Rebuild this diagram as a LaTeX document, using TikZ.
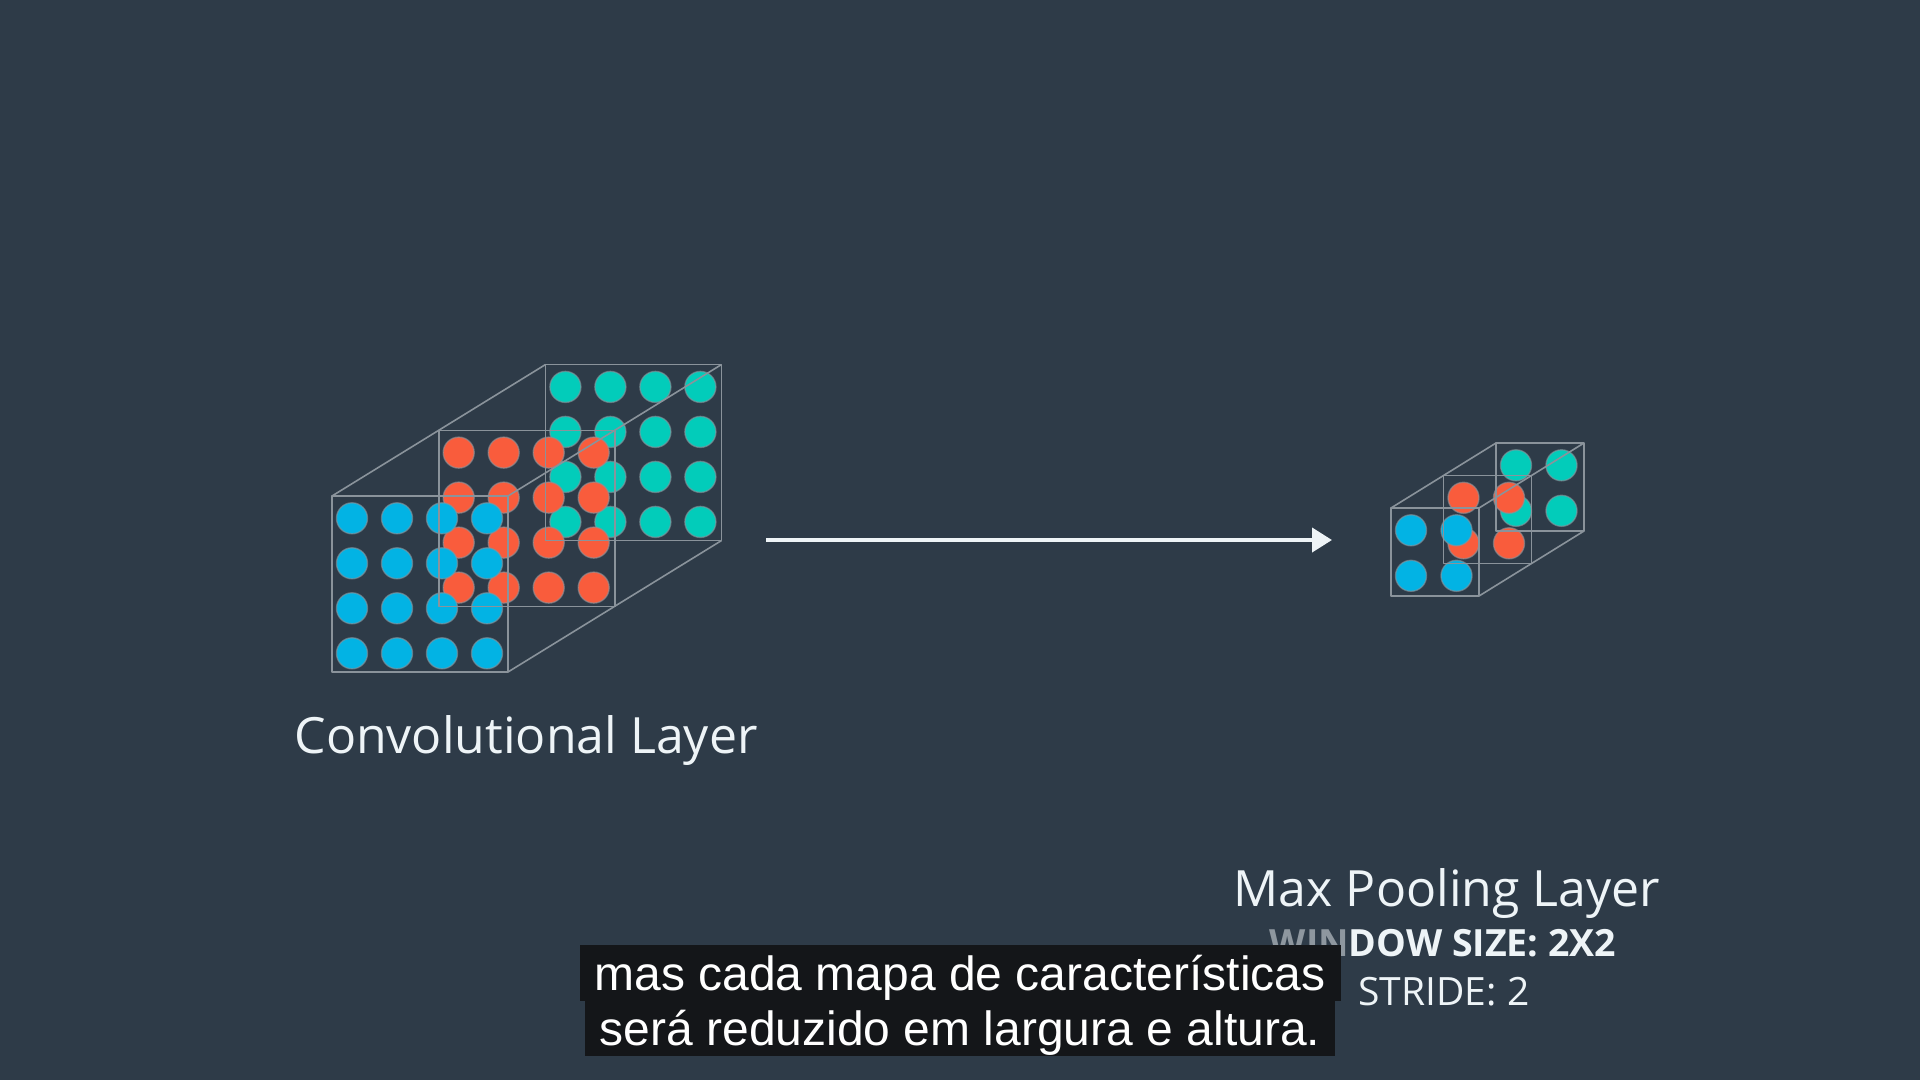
\documentclass[tikz,border=0pt]{standalone}
\usepackage{fontspec}
\setmainfont{Open Sans}
\newfontfamily\subfont{Liberation Sans}
\usetikzlibrary{arrows.meta}
\definecolor{bg}{HTML}{2E3B48}
\definecolor{dotblue}{HTML}{02B3E4}
\definecolor{dotred}{HTML}{F95C3C}
\definecolor{dotteal}{HTML}{02CCBA}
\definecolor{edgec}{HTML}{8A939B}
\definecolor{labelc}{HTML}{EEF4F7}
\definecolor{subbg}{HTML}{141619}
\tikzset{
  dotc/.style={line width=1.4pt, draw=edgec, draw opacity=0.6},
  edgeline/.style={draw=edgec, line width=1.6pt, line join=round},
  lbl/.style={text=labelc, inner sep=0pt, anchor=base},
  subbox/.style={fill=subbg, text=white, inner xsep=15pt, inner ysep=0pt,
    text height=45.5pt, text depth=11pt, anchor=base,
    font=\subfont\fontsize{48}{48}\selectfont},
  flow/.style={draw=labelc, line width=4pt, -{Triangle[length=20pt,width=24pt]}}
}
% #1 x, #2 y, #3 n, #4 colour, #5 spacing
\newcommand\drawface[5]{%
  \foreach \i in {1,...,#3}{\foreach \j in {1,...,#3}{%
    \filldraw[fill=#4, dotc] ({#1+20+(\i-1)*#5},{#2+22.3+(\j-1)*#5}) circle[radius=15.5pt];
  }}%
}
\begin{document}
\begin{tikzpicture}[x=1pt,y=-1pt]
\useasboundingbox (0,0) rectangle (1920,1080);
\fill[bg] (0,0) rectangle (1920,1080);

% ---- convolutional layer (big cube)
\drawface{545.4}{364.6}{4}{dotteal}{45}
\drawface{438.7}{430.3}{4}{dotred}{45}
\drawface{332}{496}{4}{dotblue}{45}
\draw[edgeline] (545.4,364.6) rectangle ++(176,176);
\draw[edgeline] (438.7,430.3) rectangle ++(176,176);
\draw[edgeline] (332,496) rectangle ++(176,176);
\draw[edgeline] (332,496) -- (545.4,364.6);
\draw[edgeline] (508,496) -- (721.4,364.6);
\draw[edgeline] (508,672) -- (721.4,540.6);

% ---- max pooling layer (small cube)
\drawface{1496}{443}{2}{dotteal}{45.5}
\drawface{1443.5}{475.5}{2}{dotred}{45.5}
\drawface{1391}{508}{2}{dotblue}{45.5}
\draw[edgeline] (1496,443) rectangle ++(88,88);
\draw[edgeline] (1443.5,475.5) rectangle ++(88,88);
\draw[edgeline] (1391,508) rectangle ++(88,88);
\draw[edgeline] (1391,508) -- (1496,443);
\draw[edgeline] (1479,508) -- (1584,443);
\draw[edgeline] (1479,596) -- (1584,531);

% ---- arrow
\coordinate (arrS) at (766,540);
\coordinate (arrE) at (1332,540);
\draw[flow] (arrS) -- (arrE);

% ---- labels
\node[lbl, font=\fontsize{50}{50}\selectfont] (conv) at (526,753) {Convolutional Layer};
\node[lbl, font=\fontsize{50}{50}\selectfont] (maxp) at (1447,906.7) {Max Pooling Layer};
\node[lbl, font=\bfseries\fontsize{37.5}{37.5}\selectfont] (win) at (1443,956) {{\color{labelc!50!bg}WIN}DOW SIZE: 2X2};
\node[lbl, font=\fontsize{39}{39}\selectfont] (stride) at (1444,1005.5) {STRIDE: 2};

% ---- subtitles
\node[subbox] (sub2) at (960,1045) {será reduzido em largura e altura.};
\node[subbox] (sub1) at (960,990) {mas cada mapa de características};
\end{tikzpicture}
\end{document}
